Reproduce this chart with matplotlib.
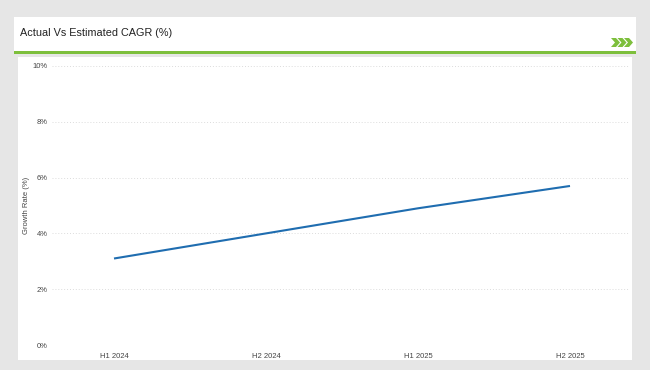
import matplotlib.pyplot as plt
from matplotlib.patches import Rectangle, Polygon

BG = "#e6e6e6"
CARD = "#ffffff"
GREEN = "#7dbf3c"
LINE = "#1f6db0"
TEXT = "#222222"
MUTED = "#444444"
GRID = "#dcdcdc"

periods = ["H1 2024", "H2 2024", "H1 2025", "H2 2025"]
growth = [3.1, 4.0, 4.9, 5.7]
y_ticks = [0, 2, 4, 6, 8, 10]

plt.rcParams["font.family"] = ["Liberation Sans", "DejaVu Sans"]

W, H = 650, 370
fig = plt.figure(figsize=(6.5, 3.7), dpi=100, facecolor=BG)
canvas = fig.add_axes([0, 0, 1, 1])
canvas.set_xlim(0, W)
canvas.set_ylim(H, 0)
canvas.axis("off")

# header card + green rule
canvas.add_patch(Rectangle((14, 17), 622, 35, facecolor=CARD, edgecolor="none"))
canvas.add_patch(Rectangle((14, 51), 622, 2.5, facecolor=GREEN, edgecolor="none"))
canvas.text(20, 33, "Actual Vs Estimated CAGR (%)", fontsize=7.8, color=TEXT, va="center")

# chevrons
for i in range(3):
    x0 = 611 + i * 6.5
    canvas.add_patch(Polygon(
        [(x0, 38), (x0 + 5, 38), (x0 + 9, 42.5), (x0 + 5, 47), (x0, 47), (x0 + 4, 42.5)],
        closed=True, facecolor=GREEN, edgecolor="none"))

# chart panel
canvas.add_patch(Rectangle((18, 57), 614, 303, facecolor=CARD, edgecolor="none"))

# plot axes: data 0..10 maps to y 345..66, categories 0..3 map to x 114..570
left_px, right_px = 52, 630
top_px, bot_px = 66, 345
ax = fig.add_axes([left_px / W, 1 - bot_px / H, (right_px - left_px) / W, (bot_px - top_px) / H])
ax.set_facecolor("none")

xs = list(range(len(periods)))
ax.plot(xs, growth, color=LINE, lw=1.5, solid_capstyle="butt")

step = (570 - 114) / 3
ax.set_xlim((left_px - 114) / step, (right_px - 114) / step)
ax.set_ylim(0, 10)
ax.set_yticks(y_ticks)
ax.set_yticklabels([f"{t}%" for t in y_ticks])
ax.set_xticks(xs)
ax.set_xticklabels(periods)
ax.grid(axis="y", color=GRID, lw=0.7, linestyle=(0, (1, 2)))
ax.set_axisbelow(True)
for s in ax.spines.values():
    s.set_visible(False)
ax.tick_params(length=0, labelsize=5.5, colors=MUTED, pad=3)
ax.tick_params(axis="x", pad=6)
ax.set_ylabel("Growth Rate (%)", fontsize=5.5, color=MUTED, labelpad=2)

fig.savefig("out.png", dpi=100, facecolor=fig.get_facecolor())
